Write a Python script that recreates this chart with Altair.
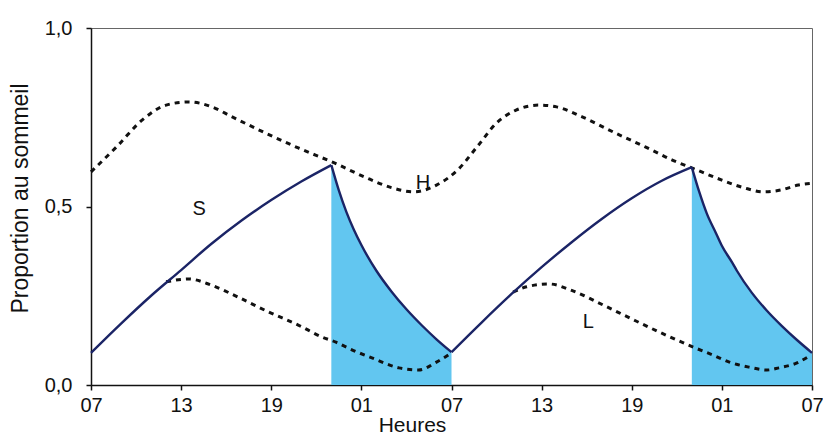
import json
import altair as alt
import pandas as pd

# ---- axis ticks / labels ----
x_ticks = [0, 6, 12, 18, 24, 30, 36, 42, 48]
x_tick_labels = ["07", "13", "19", "01", "07", "13", "19", "01", "07"]
y_ticks = [0.0, 0.5, 1.0]
y_tick_labels = ["0,0", "0,5", "1,0"]

# ---- S : sleep pressure (solid) ----
s_rise1_h = [0, 2, 4, 6, 8, 10, 12, 14, 16]
s_rise1_v = [0.09, 0.172, 0.25, 0.322, 0.395, 0.46, 0.518, 0.57, 0.616]
s_fall1_h = [16, 16.5, 17, 17.5, 18, 19, 20, 21, 22, 23, 24]
s_fall1_v = [0.616, 0.545, 0.485, 0.435, 0.392, 0.32, 0.262, 0.212, 0.168, 0.128, 0.092]
s_rise2_h = [24, 26, 28, 30, 32, 34, 36, 38, 40]
s_rise2_v = [0.092, 0.175, 0.255, 0.33, 0.40, 0.465, 0.523, 0.572, 0.61]
s_fall2_h = [40, 40.5, 41, 41.6, 42, 42.7, 43, 44, 45, 46, 47, 48]
s_fall2_v = [0.61, 0.54, 0.48, 0.426, 0.39, 0.342, 0.32, 0.258, 0.208, 0.165, 0.126, 0.09]

# ---- H : upper threshold (dashed) ----
h_hours = [0, 1.7, 3.4, 5, 6.5, 8, 9.4, 11.6, 13.8, 16.2, 18.2, 20, 21.5, 23,
           24.4, 25.7, 27, 28.3, 29.8, 31, 32.7, 34.9, 36.9, 38.7, 40, 42,
           43.5, 44.8, 45.9, 47.1, 48]
h_values = [0.597, 0.667, 0.742, 0.784, 0.793, 0.78, 0.751, 0.706, 0.664,
            0.622, 0.583, 0.553, 0.541, 0.56, 0.602, 0.667, 0.734, 0.77,
            0.784, 0.779, 0.751, 0.706, 0.667, 0.63, 0.608, 0.574, 0.552,
            0.541, 0.546, 0.56, 0.565]

# ---- L : lower threshold (dashed) ----
l1_hours = [5, 6.5, 8, 9.8, 11.8, 13.8, 15.4, 16.3, 17.4, 18.7, 20.5, 21.8, 23, 24]
l1_values = [0.289, 0.297, 0.28, 0.246, 0.205, 0.168, 0.134, 0.12, 0.098,
             0.076, 0.048, 0.042, 0.064, 0.09]
l2_hours = [28.1, 29, 30.5, 32, 34.1, 36, 38, 40.1, 41.4, 42.5, 43.8, 45,
            45.8, 47, 47.7]
l2_values = [0.26, 0.275, 0.283, 0.265, 0.224, 0.185, 0.145, 0.106, 0.084,
             0.064, 0.05, 0.042, 0.048, 0.062, 0.078]

# ---- curve labels ----
label_text = ["S", "H", "L"]
label_hours = [7.2, 22.1, 33.1]
label_values = [0.493, 0.566, 0.176]


def seg(hours, values, name):
    return pd.DataFrame({"h": hours, "v": values, "seg": name})


s_df = pd.concat([
    seg(s_rise1_h, s_rise1_v, "r1"),
    seg(s_fall1_h, s_fall1_v, "f1"),
    seg(s_rise2_h, s_rise2_v, "r2"),
    seg(s_fall2_h, s_fall2_v, "f2"),
])
fill_df = pd.concat([
    seg(s_fall1_h, s_fall1_v, "f1"),
    seg(s_fall2_h, s_fall2_v, "f2"),
])
h_df = seg(h_hours, h_values, "h")
l_df = pd.concat([seg(l1_hours, l1_values, "l1"), seg(l2_hours, l2_values, "l2")])
lab_df = pd.DataFrame({"h": label_hours, "v": label_values, "t": label_text})

FONT = "Liberation Sans"
INK = "#111"

x_enc = alt.X(
    "h:Q",
    scale=alt.Scale(domain=[0, 48], nice=False, zero=False),
    axis=alt.Axis(
        values=x_ticks,
        labelExpr=f"{json.dumps(x_tick_labels)}[round(datum.value/6)]",
        title="Heures",
        grid=False,
        labelFontSize=20,
        labelFont=FONT,
        labelColor=INK,
        labelPadding=5,
        labelFlush=False,
        titleFontSize=21,
        titleFont=FONT,
        titleFontWeight="normal",
        titleColor=INK,
        titleX=321,
        titleY=40,
        titleBaseline="middle",
        domainColor=INK,
        domainWidth=1.5,
        tickColor=INK,
        tickSize=5,
        tickWidth=1.5,
    ),
)
y_enc = alt.Y(
    "v:Q",
    scale=alt.Scale(domain=[0, 1], nice=False),
    axis=alt.Axis(
        values=y_ticks,
        labelExpr=f"{json.dumps(y_tick_labels)}[round(datum.value*2)]",
        title="Proportion au sommeil",
        grid=False,
        labelFontSize=20,
        labelFont=FONT,
        labelColor=INK,
        labelPadding=14,
        labelFlush=False,
        titleFontSize=23,
        titleFont=FONT,
        titleFontWeight="normal",
        titleColor=INK,
        titleX=-71,
        titleY=170,
        titleBaseline="middle",
        titleAlign="center",
        domainColor=INK,
        domainWidth=1.5,
        tickColor=INK,
        tickSize=5,
        tickWidth=1.5,
    ),
)

area = alt.Chart(fill_df).mark_area(color="#62c6f0", opacity=1, interpolate="monotone").encode(
    x=x_enc, y=y_enc, y2=alt.datum(0), detail="seg:N"
)
h_line = alt.Chart(h_df).mark_line(
    color=INK, strokeWidth=3, strokeDash=[5, 5], interpolate="monotone"
).encode(x="h:Q", y="v:Q")
l_line = alt.Chart(l_df).mark_line(
    color=INK, strokeWidth=3, strokeDash=[5, 5], interpolate="monotone"
).encode(x="h:Q", y="v:Q", detail="seg:N")
s_line = alt.Chart(s_df).mark_line(
    color="#1b2466", strokeWidth=2.4, interpolate="monotone"
).encode(x="h:Q", y="v:Q", detail="seg:N")
labels = alt.Chart(lab_df).mark_text(
    font=FONT, fontSize=20, color=INK, align="center", baseline="middle"
).encode(x="h:Q", y="v:Q", text="t:N")

chart = (
    alt.layer(area, h_line, l_line, s_line, labels)
    .properties(
        width=721,
        height=357,
        padding={"left": 83, "top": 20, "right": 11, "bottom": 51},
        autosize=alt.AutoSizeParams(type="none"),
    )
    .configure_view(stroke="#666", strokeWidth=1)
)

chart.save("out.html", embed_options={"renderer": "svg", "actions": False})
